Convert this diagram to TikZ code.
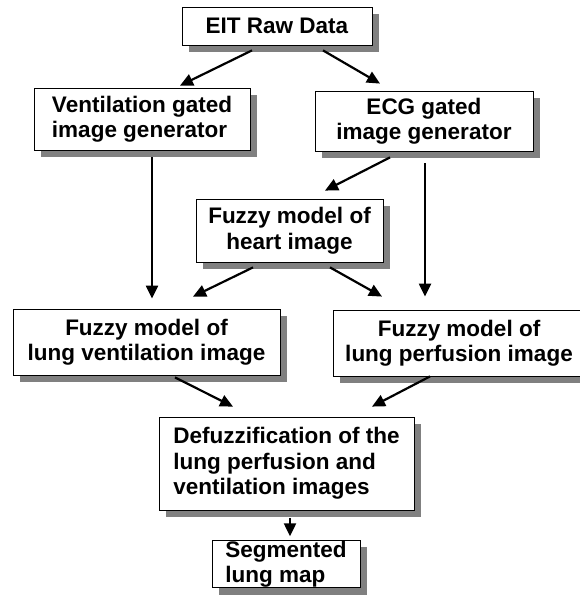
\documentclass[tikz,border=0pt]{standalone}
\usepackage{fontspec}
\setmainfont{Liberation Sans}
\usetikzlibrary{arrows.meta,calc,backgrounds}
\definecolor{shadowgray}{RGB}{128,128,128}

\begin{document}
\begin{tikzpicture}[x=1pt, y=-1pt,
    stage/.style={draw, line width=0.8pt, fill=white, inner sep=0pt,
      font=\fontsize{22.5}{25.5}\selectfont\bfseries},
    shade box/.style={fill=shadowgray, draw=none},
    flow/.style={-{Triangle[length=13pt,width=12pt]}, line width=2.2pt}]
    \useasboundingbox (0,0) rectangle (580,610);

    % Input and gated generators
    \node[stage, minimum width=190pt, minimum height=38pt, align=center] (raw) at (277,26) {EIT Raw Data};
    \node[stage, minimum width=216pt, minimum height=62pt, align=left] (ventgen) at (142,119) {Ventilation gated\\image generator};
    \node[stage, minimum width=218pt, minimum height=60pt, align=center] (ecggen) at (424,121) {ECG gated\\image generator};

    % Fuzzy models
    \node[stage, minimum width=187pt, minimum height=63pt, align=center] (heart) at (289.5,230.5) {Fuzzy model of\\heart image};
    \node[stage, minimum width=267pt, minimum height=66pt, align=center] (lungvent) at (146.5,342) {Fuzzy model of\\lung ventilation image};
    \node[stage, minimum width=252pt, minimum height=66pt, align=center] (lungperf) at (459,343) {Fuzzy model of\\lung perfusion image};

    % Output
    \node[stage, minimum width=255pt, minimum height=93pt, align=left] (defuzz) at (286.5,463.5) {Defuzzification of the\\lung perfusion and\\ventilation images};
    \node[stage, minimum width=148pt, minimum height=46pt, align=left] (segmap) at (286,564) {Segmented\\lung map};

    % Shadows
    \begin{scope}[on background layer]
      \foreach \n in {raw,ventgen,ecggen,heart,lungvent,lungperf,defuzz,segmap}
        \fill[shade box] ($(\n.north west)+(7,7)$) rectangle ($(\n.south east)+(7,7)$);
    \end{scope}

    % Arrows
    \draw[flow] ($(raw.south)+(-25,5)$) -- ($(ventgen.north)+(38,-2)$);
    \draw[flow] ($(raw.south)+(46,5)$) -- ($(ecggen.north)+(-44,-7)$);
    \draw[flow] ($(ventgen.south)+(10,7)$) -- ($(lungvent.north)+(5.5,-10)$);
    \draw[flow] ($(ecggen.south)+(-34,6)$) -- ($(heart.north)+(35.5,-8)$);
    \draw[flow] ($(ecggen.south)+(1,12)$) -- ($(lungperf.north)+(-34,-13)$);
    \draw[flow] ($(heart.south)+(-36.5,5)$) -- ($(lungvent.north)+(46.5,-12)$);
    \draw[flow] ($(heart.south)+(40.5,5)$) -- ($(lungperf.north)+(-77,-13)$);
    \draw[flow] ($(lungvent.south)+(28.5,2)$) -- ($(defuzz.north)+(-53.5,-10)$);
    \draw[flow] ($(lungperf.south)+(-29,0)$) -- ($(defuzz.north)+(85.5,-10)$);
    \draw[flow] ($(defuzz.south)+(3.5,8)$) -- ($(segmap.north)+(4,-4)$);
\end{tikzpicture}
\end{document}
